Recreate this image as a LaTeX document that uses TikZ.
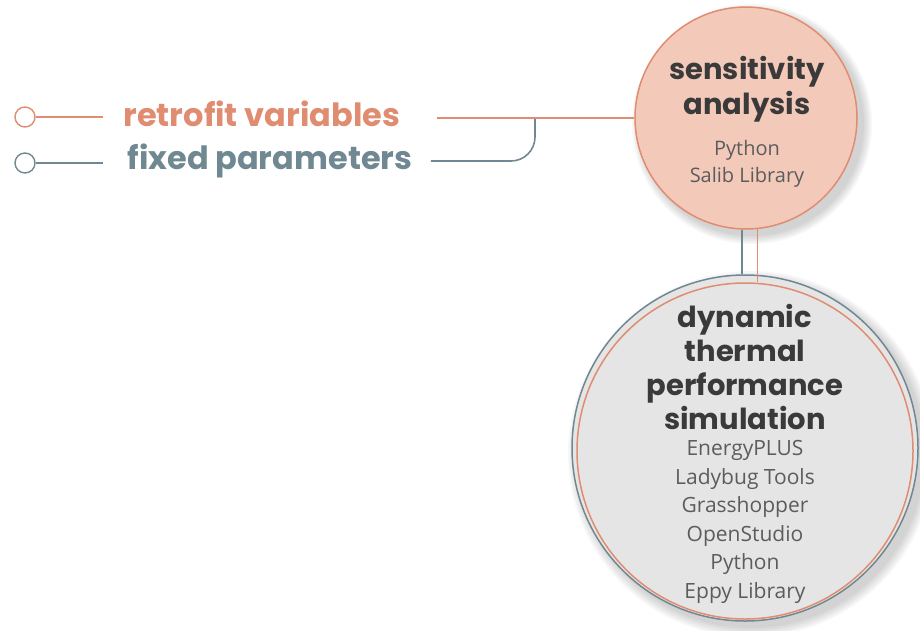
\documentclass[tikz,border=0pt]{standalone}
\usepackage{fontspec}
\setmainfont{Open Sans}
\newfontfamily\headfont{Poppins}
\usetikzlibrary{calc,positioning}
\definecolor{salmon}{RGB}{224,140,112}
\definecolor{peach}{RGB}{243,202,186}
\definecolor{slate}{RGB}{112,136,146}
\definecolor{inkdark}{RGB}{58,58,58}
\definecolor{inkgray}{RGB}{92,92,92}
\definecolor{paleash}{RGB}{229,229,229}

\begin{document}
\begin{tikzpicture}[x=1pt,y=-1pt]
  \tikzset{
    endring/.style={circle,draw,line width=1.4pt,fill=white,minimum size=20pt,inner sep=0pt},
    inlabel/.style={font=\headfont\bfseries\fontsize{32}{36}\selectfont,anchor=west},
    link/.style={line width=1.6pt},
    headtxt/.style={font=\headfont\bfseries\fontsize{29}{35}\selectfont,text=inkdark,align=center},
    tooltxt/.style={font=\fontsize{20}{27}\selectfont,text=inkgray,align=center}
  }
  \useasboundingbox (0,0) rectangle (920,630);

  % soft shadows
  \foreach \k in {0,...,5}{
    \fill[black,opacity=0.03] (752,124) circle ({112+\k*1.6});
    \fill[black,opacity=0.03] (751,454) circle ({174+\k*1.8});
  }

  % inputs
  \node[endring,draw=salmon] (rvring) at (25,117) {};
  \node[endring,draw=slate] (fpring) at (25,163) {};
  \node[inlabel,text=salmon] (rv) at (120,114) {retrofit variables};
  \node[inlabel,text=slate] (fp) at (124,161) {fixed parameters};
  \draw[link,salmon] (rvring.east) -- ++(67,0);
  \draw[link,slate] (fpring.east) -- ++(67,0);

  % sensitivity analysis
  \node[circle,draw=salmon,line width=1.5pt,fill=peach,minimum size=222pt] (sa) at (746,118) {};
  \node[headtxt] (sahead) at (747,89) {sensitivity\\analysis};
  \node[tooltxt] (satools) at (747,164) {Python\\Salib Library};

  % dynamic simulation
  \node[circle,draw=slate,line width=1.5pt,fill=paleash,minimum size=346pt] (dtout) at (745,448) {};
  \node[circle,draw=salmon,line width=1.5pt,minimum size=336pt] (dtin) at (745,451) {};
  \node[headtxt,font=\headfont\bfseries\fontsize{29}{34.3}\selectfont] (dthead) at (745,367)
    {dynamic\\thermal\\performance\\simulation};
  \node[tooltxt,font=\fontsize{21}{28.6}\selectfont] (dttools) at (745,522)
    {EnergyPLUS\\Ladybug Tools\\Grasshopper\\OpenStudio\\Python\\Eppy Library};

  % connectors
  \coordinate (join) at (535,119);
  \draw[link,salmon] ([xshift=33pt]rv.east |- sa.west) -- (sa.west);
  \draw[link,slate,rounded corners=24pt] ([xshift=15pt]fp.east) -- (join |- fp.east) -- (join);
  \draw[link,slate] (sa.-92) -- (sa.-92 |- dtout.north);
  \draw[link,salmon] (sa.-84) -- (sa.-84 |- dtin.north);
\end{tikzpicture}
\end{document}
